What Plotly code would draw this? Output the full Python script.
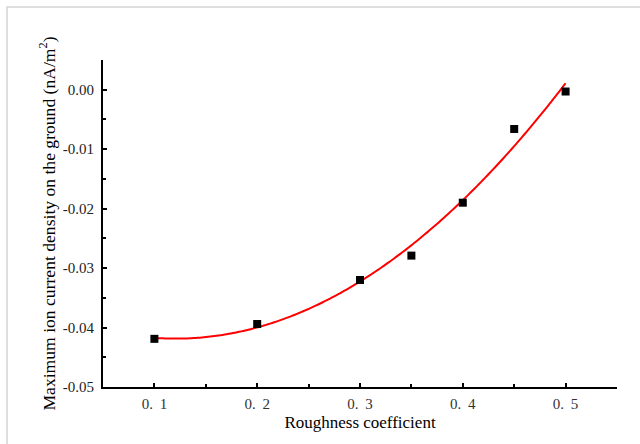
import numpy as np
import plotly.graph_objects as go

roughness = [0.1, 0.2, 0.3, 0.35, 0.4, 0.45, 0.5]
current_density = [-0.0419, -0.0394, -0.0320, -0.0279, -0.0190, -0.0066, -0.0003]
x_ticks = [0.1, 0.2, 0.3, 0.4, 0.5]
x_ticklabels = ["0. \u20091", "0. \u20092", "0. \u20093", "0. \u20094", "0. \u20095"]
y_ticks = [0.00, -0.01, -0.02, -0.03, -0.04, -0.05]
y_ticklabels = ["0.00", "-0.01", "-0.02", "-0.03", "-0.04", "-0.05"]

coef = np.polyfit(roughness, current_density, 2)
fit_x = np.linspace(min(roughness), max(roughness), 200)
fit_y = np.polyval(coef, fit_x)

font_family = "Liberation Serif"

fig = go.Figure()
fig.add_trace(go.Scatter(x=fit_x, y=fit_y, mode="lines",
                         line=dict(color="#ff0000", width=2, simplify=False),
                         showlegend=False))
fig.add_trace(go.Scatter(x=roughness, y=current_density, mode="markers",
                         marker=dict(symbol="square", size=8, color="black"),
                         showlegend=False))

axis_common = dict(showline=True, linecolor="black", linewidth=2, mirror=False,
                   ticks="inside", ticklen=4, tickwidth=1.5, tickcolor="black",
                   showgrid=False, zeroline=False,
                   minor=dict(ticks="inside", ticklen=3, tickwidth=1.5, tickcolor="black"))

fig.update_xaxes(range=[0.05, 0.55], tickvals=x_ticks, ticktext=x_ticklabels,
                 ticklabelstandoff=2,
                 tickfont=dict(family=font_family, size=15, color="#333"),
                 title=dict(text="Roughness coefficient", standoff=5,
                            font=dict(family=font_family, size=17, color="black")),
                 **axis_common)
fig.update_xaxes(minor=dict(tickvals=[0.15, 0.25, 0.35, 0.45, 0.55]))
fig.update_yaxes(range=[-0.05, 0.005], tickvals=y_ticks, ticktext=y_ticklabels,
                 ticklabelstandoff=4,
                 tickfont=dict(family=font_family, size=15, color="#222"),
                 title=dict(text="Maximum ion current density on the ground (nA/m<sup>2</sup>)",
                            standoff=3,
                            font=dict(family=font_family, size=17.6, color="black")),
                 **axis_common)
fig.update_yaxes(minor=dict(tickvals=[-0.045, -0.035, -0.025, -0.015, -0.005, 0.005]))

fig.add_shape(type="rect", xref="paper", yref="paper",
              x0=(7 - 103) / 514, x1=1.2, y0=-0.5, y1=(387 - 7) / 327,
              line=dict(color="#d4d4d4", width=1.5), fillcolor="rgba(0,0,0,0)", layer="below")

fig.update_layout(width=640, height=444, paper_bgcolor="white", plot_bgcolor="white",
                  font=dict(family=font_family),
                  margin=dict(l=103, r=23, t=60, b=57, autoexpand=False))

fig.write_html("out.html")
